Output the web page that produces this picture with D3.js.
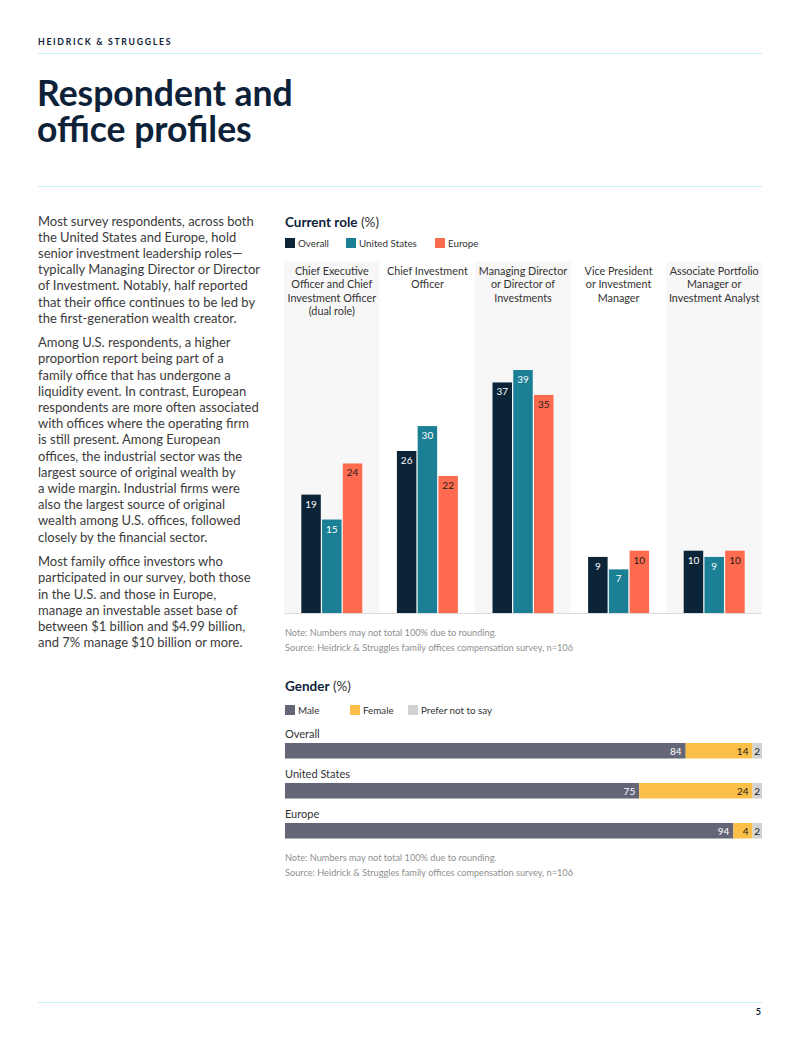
<!DOCTYPE html>
<html>
<head>
<meta charset="utf-8">
<script src="https://cdn.jsdelivr.net/npm/d3@7"></script>
<style>
  body { margin: 0; background: #fff; }
  svg text { font-family: Lato, "Open Sans", sans-serif; }
</style>
</head>
<body>
<svg id="page" width="800" height="1063"></svg>
<script>
// role chart data
let roles = [
  ["Chief Executive", "Officer and Chief", "Investment Officer", "(dual role)"],
  ["Chief Investment", "Officer"],
  ["Managing Director", "or Director of", "Investments"],
  ["Vice President", "or Investment", "Manager"],
  ["Associate Portfolio", "Manager or", "Investment Analyst"]
];
let regions = ["Overall", "United States", "Europe"];
let overall = [19, 26, 37, 9, 10];
let unitedStates = [15, 30, 39, 7, 9];
let europe = [24, 22, 35, 10, 10];

// gender chart data
let genderRows = ["Overall", "United States", "Europe"];
let genders = ["Male", "Female", "Prefer not to say"];
let male = [84, 75, 94];
let female = [14, 24, 4];
let preferNot = [2, 2, 2];

let titleLines = ["Respondent and", "office profiles"];
let bodyText = [
  ["Most survey respondents, across both", "the United States and Europe, hold", "senior investment leadership roles\u2014",
   "typically Managing Director or Director", "of Investment. Notably, half reported", "that their office continues to be led by",
   "the first-generation wealth creator."],
  ["Among U.S. respondents, a higher", "proportion report being part of a", "family office that has undergone a",
   "liquidity event. In contrast, European", "respondents are more often associated", "with offices where the operating firm",
   "is still present. Among European", "offices, the industrial sector was the", "largest source of original wealth by",
   "a wide margin. Industrial firms were", "also the largest source of original", "wealth among U.S. offices, followed",
   "closely by the financial sector."],
  ["Most family office investors who", "participated in our survey, both those", "in the U.S. and those in Europe,",
   "manage an investable asset base of", "between $1 billion and $4.99 billion,", "and 7% manage $10 billion or more."]
];
let noteText = "Note: Numbers may not total 100% due to rounding.";
let sourceText = "Source: Heidrick & Struggles family offices compensation survey, n=106";

let navy = "#0d2238";
let roleColors = ["#0b2438", "#1b7f96", "#ff6b4f"];
let genderColors = ["#646677", "#fbbf4a", "#d2d2d2"];

let svg = d3.select("#page");

// header
svg.append("text").attr("x", 38).attr("y", 44.5)
  .attr("font-size", 8.7).attr("font-weight", 700).attr("letter-spacing", 1.7)
  .attr("fill", navy).text("HEIDRICK & STRUGGLES");
svg.append("line").attr("x1", 38).attr("x2", 762).attr("y1", 53.5).attr("y2", 53.5)
  .attr("stroke", "#c9f0f4").attr("stroke-width", 1);
svg.append("text")
  .attr("font-size", 35.5).attr("font-weight", 700).attr("fill", navy)
  .selectAll("tspan").data(titleLines).enter().append("tspan")
    .attr("x", 37).attr("y", function(d, i) { return 106 + i * 35.5; })
    .text(function(d) { return d; });
svg.append("line").attr("x1", 38).attr("x2", 762).attr("y1", 186.5).attr("y2", 186.5)
  .attr("stroke", "#c9f0f4").attr("stroke-width", 1);

// body copy
let py = 225.5;
bodyText.forEach(function(para) {
  let t = svg.append("text").attr("font-size", 13).attr("fill", "#3b3b3b");
  para.forEach(function(line, i) {
    t.append("tspan").attr("x", 38).attr("y", py + i * 16.2).text(line);
  });
  py += para.length * 16.2 + 8.3;
});

// ---------- Current role ----------
let title1 = svg.append("text").attr("x", 285).attr("y", 227).attr("font-size", 13.5).attr("fill", navy);
title1.append("tspan").attr("font-weight", 700).text("Current role");
title1.append("tspan").attr("fill", "#333").text(" (%)");

let leg1 = svg.append("g").selectAll("g")
  .data(regions).enter().append("g")
  .attr("transform", function(d, i) { return "translate(" + [285, 346, 435][i] + ",238)"; });
leg1.append("rect").attr("width", 10).attr("height", 10).attr("fill", function(d, i) { return roleColors[i]; });
leg1.append("text").attr("x", 13).attr("y", 9).attr("font-size", 9.8).attr("fill", "#333").text(function(d) { return d; });

let x0 = d3.scaleBand().domain(d3.range(roles.length)).range([284, 762]);
let x1 = d3.scaleBand().domain(regions).range([0, 61]).paddingInner(0.06);
let y = d3.scaleLinear().domain([0, 39]).range([613, 370]);

let cols = svg.append("g").selectAll("g")
  .data(roles).enter().append("g")
  .attr("transform", function(d, i) { return "translate(" + x0(i) + ",0)"; });

cols.append("rect")
  .attr("y", 262).attr("width", x0.bandwidth()).attr("height", 613 - 262)
  .attr("fill", function(d, i) { return i % 2 === 0 ? "#f7f7f7" : "#fff"; });

cols.append("text")
  .attr("text-anchor", "middle").attr("font-size", 10.8).attr("fill", "#333")
  .selectAll("tspan").data(function(d) { return d; }).enter().append("tspan")
    .attr("x", x0.bandwidth() / 2)
    .attr("y", function(d, i) { return 275 + i * 13.4; })
    .text(function(d) { return d; });

let series = [overall, unitedStates, europe];
let bars = cols.append("g")
  .attr("transform", "translate(" + (x0.bandwidth() - 61) / 2 + ",0)")
  .selectAll("g")
  .data(function(d, i) { return regions.map(function(r, k) { return { region: r, k: k, v: series[k][i] }; }); })
  .enter().append("g");

bars.append("rect")
  .attr("x", function(d) { return x1(d.region); })
  .attr("y", function(d) { return y(d.v); })
  .attr("width", x1.bandwidth())
  .attr("height", function(d) { return y(0) - y(d.v); })
  .attr("fill", function(d) { return roleColors[d.k]; });

bars.append("text")
  .attr("x", function(d) { return x1(d.region) + x1.bandwidth() / 2; })
  .attr("y", function(d) { return y(d.v) + 13; })
  .attr("text-anchor", "middle").attr("font-size", 10)
  .attr("fill", function(d) { return d.k === 2 ? "#1a1a1a" : "#fff"; })
  .text(function(d) { return d.v; });

svg.append("line").attr("x1", 284).attr("x2", 762).attr("y1", 613.5).attr("y2", 613.5)
  .attr("stroke", "#dcdcdc");

svg.append("text").attr("x", 285).attr("y", 636).attr("font-size", 9.2).attr("fill", "#8f8f8f").text(noteText);
svg.append("text").attr("x", 285).attr("y", 651).attr("font-size", 9.2).attr("fill", "#8f8f8f").text(sourceText);

// ---------- Gender ----------
let title2 = svg.append("text").attr("x", 285).attr("y", 691).attr("font-size", 13.5).attr("fill", navy);
title2.append("tspan").attr("font-weight", 700).text("Gender");
title2.append("tspan").attr("fill", "#333").text(" (%)");

let leg2 = svg.append("g").selectAll("g")
  .data(genders).enter().append("g")
  .attr("transform", function(d, i) { return "translate(" + [285, 350, 408][i] + ",705)"; });
leg2.append("rect").attr("width", 10).attr("height", 10).attr("fill", function(d, i) { return genderColors[i]; });
leg2.append("text").attr("x", 13).attr("y", 9).attr("font-size", 9.8).attr("fill", "#333").text(function(d) { return d; });

let rowY = d3.scaleBand().domain(genderRows).range([723, 843]);
let gx = d3.scaleLinear().range([285, 762]);

let rows = svg.append("g").selectAll("g")
  .data(genderRows).enter().append("g")
  .attr("transform", function(d) { return "translate(0," + rowY(d) + ")"; });

rows.append("text").attr("x", 285).attr("y", 14.5).attr("font-size", 11).attr("fill", "#333")
  .text(function(d) { return d; });

let gseries = [male, female, preferNot];
let segs = rows.selectAll("g.seg")
  .data(function(d, i) {
    let total = male[i] + female[i] + preferNot[i];
    let acc = 0;
    return gseries.map(function(s, k) {
      let seg = { k: k, v: s[i], x0: acc / total, x1: (acc + s[i]) / total };
      acc += s[i];
      return seg;
    });
  })
  .enter().append("g").attr("class", "seg");

segs.append("rect")
  .attr("x", function(d) { return gx(d.x0); })
  .attr("y", 20)
  .attr("width", function(d) { return gx(d.x1) - gx(d.x0); })
  .attr("height", 15.5)
  .attr("fill", function(d) { return genderColors[d.k]; });

segs.append("text")
  .attr("x", function(d) { return d.k === 2 ? (gx(d.x0) + gx(d.x1)) / 2 : gx(d.x1) - 4; })
  .attr("y", 31.5)
  .attr("text-anchor", function(d) { return d.k === 2 ? "middle" : "end"; })
  .attr("font-size", 10)
  .attr("fill", function(d) { return d.k === 0 ? "#fff" : "#1a1a1a"; })
  .text(function(d) { return d.v; });

svg.append("text").attr("x", 285).attr("y", 861).attr("font-size", 9.2).attr("fill", "#8f8f8f").text(noteText);
svg.append("text").attr("x", 285).attr("y", 876).attr("font-size", 9.2).attr("fill", "#8f8f8f").text(sourceText);

// footer
svg.append("line").attr("x1", 38).attr("x2", 762).attr("y1", 1002.5).attr("y2", 1002.5)
  .attr("stroke", "#c9f0f4").attr("stroke-width", 1);
svg.append("text").attr("x", 761).attr("y", 1015).attr("text-anchor", "end")
  .attr("font-size", 9).attr("font-weight", 700).attr("fill", navy).text("5");
</script>
</body>
</html>
